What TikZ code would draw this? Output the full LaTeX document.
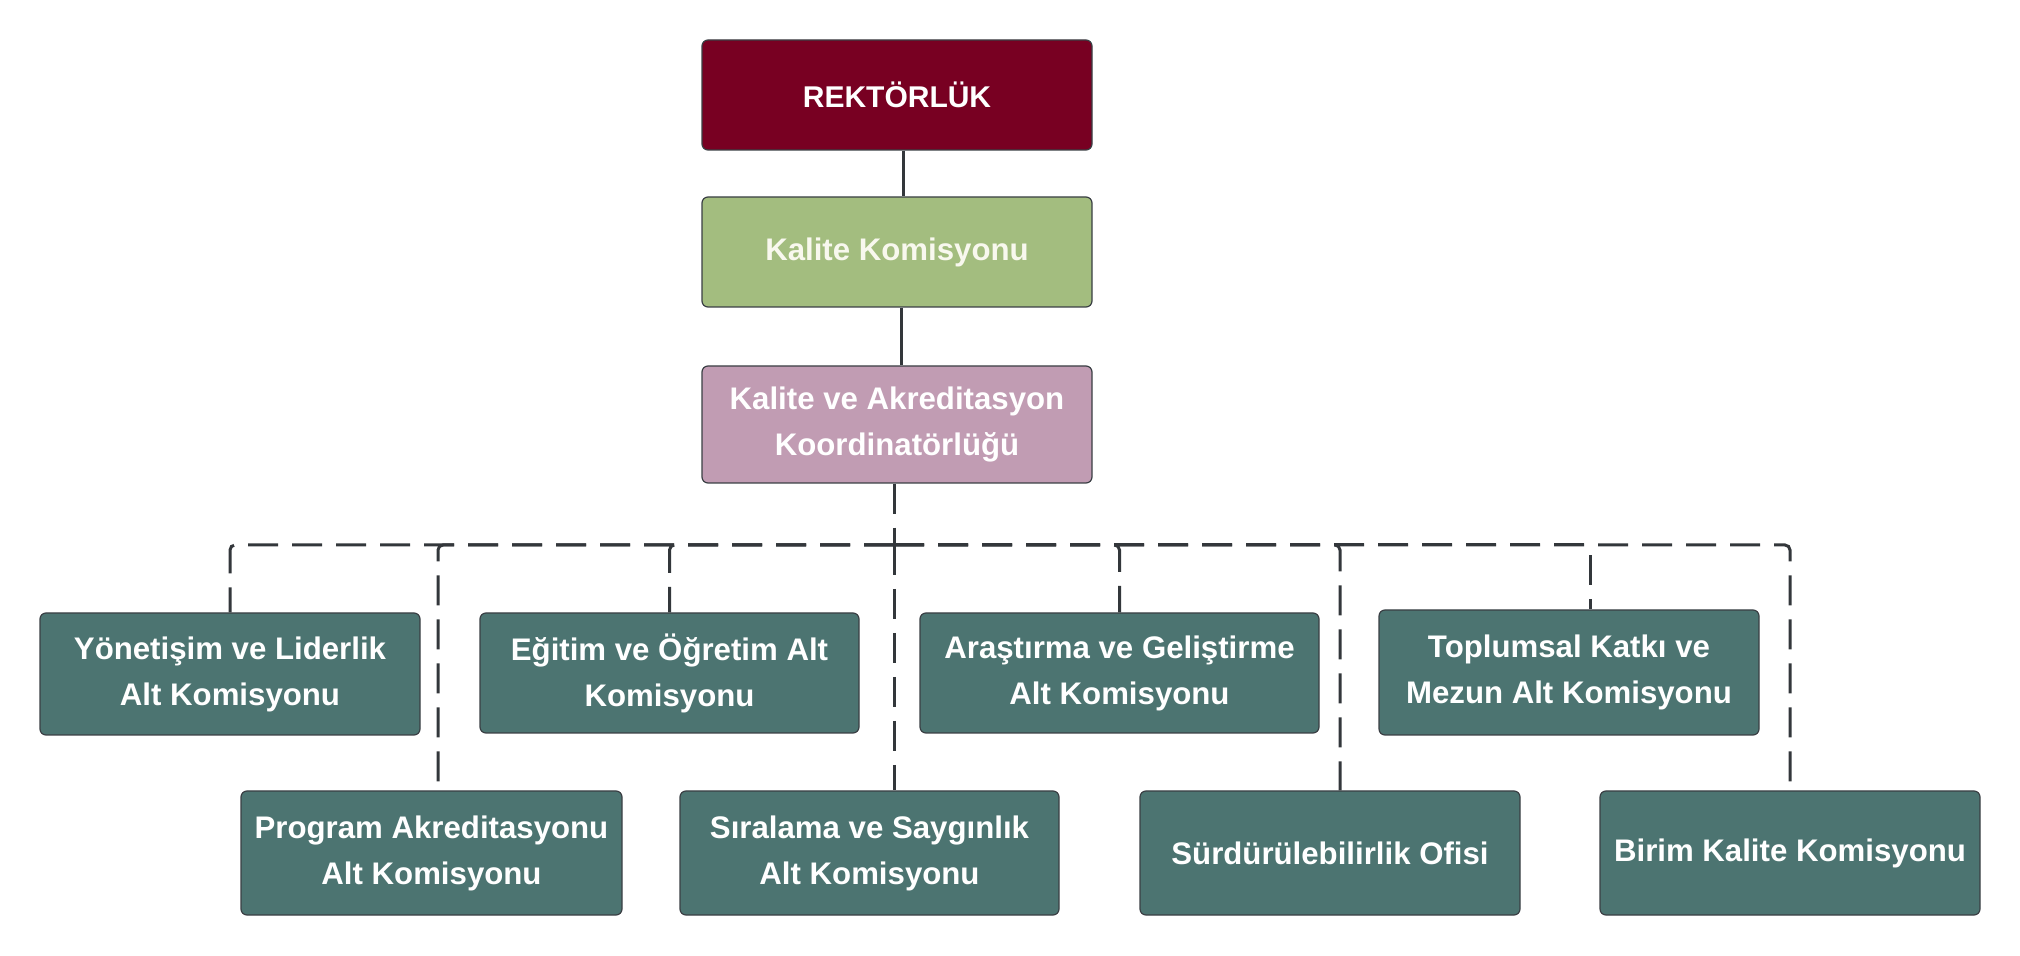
\documentclass[tikz,border=0pt]{standalone}
\usepackage{fontspec}
\setmainfont{Liberation Sans}
\definecolor{rektc}{HTML}{780022}
\definecolor{kkc}{HTML}{A3BD7F}
\definecolor{koordc}{HTML}{C19CB3}
\definecolor{tealc}{HTML}{4C7471}
\definecolor{edgec}{HTML}{3A3F44}
\definecolor{connc}{HTML}{33373B}
\definecolor{creamc}{HTML}{F8F8EE}
\begin{document}
\begin{tikzpicture}[x=0.5pt,y=-0.5pt,
  box/.style={draw=edgec, line width=0.6pt, rounded corners=3pt, align=center,
    text=white, font=\bfseries\fontsize{15.6}{23}\selectfont, inner sep=0pt},
  sub/.style={box, fill=tealc},
  solidline/.style={draw=connc, line width=1.5pt},
  dashline/.style={draw=connc, line width=1.5pt, dash pattern=on 15pt off 7pt, rounded corners=2.5pt}]
\useasboundingbox (0,0) rectangle (2020,956);
% top chain
\node[box, fill=rektc, minimum width=195pt, minimum height=55pt, font=\bfseries\fontsize{15}{23}\selectfont] (rekt) at (897,95) {REKTÖRLÜK};
\node[box, fill=kkc, text=creamc, minimum width=195pt, minimum height=55pt] (kk) at (897,252) {Kalite Komisyonu};
\node[box, fill=koordc, minimum width=195pt, minimum height=58.5pt] (koord) at (897,424.5) {Kalite ve Akreditasyon\\Koordinatörlüğü};
% row 1
\node[sub, minimum width=190pt, minimum height=61pt] (yon) at (230,674) {Yönetişim ve Liderlik\\Alt Komisyonu};
\node[sub, minimum width=189.5pt, minimum height=60pt] (egitim) at (669.5,673) {Eğitim ve Öğretim Alt\\Komisyonu};
\node[sub, minimum width=199.5pt, minimum height=60pt] (arastirma) at (1119.5,673) {Araştırma ve Geliştirme\\Alt Komisyonu};
\node[sub, minimum width=190pt, minimum height=62.5pt] (toplumsal) at (1569,672.5) {Toplumsal Katkı ve\\Mezun Alt Komisyonu};
% row 2
\node[sub, minimum width=190.5pt, minimum height=62pt] (program) at (431.5,853) {Program Akreditasyonu\\Alt Komisyonu};
\node[sub, minimum width=189.5pt, minimum height=62pt] (siralama) at (869.5,853) {Sıralama ve Saygınlık\\Alt Komisyonu};
\node[sub, minimum width=190pt, minimum height=62pt] (surdur) at (1330,853) {Sürdürülebilirlik Ofisi};
\node[sub, minimum width=190pt, minimum height=62pt] (birim) at (1790,853) {Birim Kalite Komisyonu};
% solid connectors
\draw[solidline] ([xshift=3pt]rekt.south) -- ([xshift=3pt]kk.north);
\draw[solidline] ([xshift=2pt]kk.south) -- ([xshift=2pt]koord.north);
% dashed tree
\coordinate (j) at (894,545);
\draw[dashline] ([xshift=-1.5pt]koord.south) -- (j);
\draw[dashline] (j) -| (yon.north);
\draw[dashline] (j) -| ([xshift=3.25pt]program.north);
\draw[dashline] (j) -| (egitim.north);
\draw[dashline] (j) -- (j |- siralama.north);
\draw[dashline] (j) -| (arastirma.north);
\draw[dashline] (j) -| ([xshift=5pt]surdur.north);
\draw[dashline] (j) -| ([xshift=10.5pt]toplumsal.north);
\draw[dashline] (j) -| (birim.north);
\end{tikzpicture}
\end{document}
